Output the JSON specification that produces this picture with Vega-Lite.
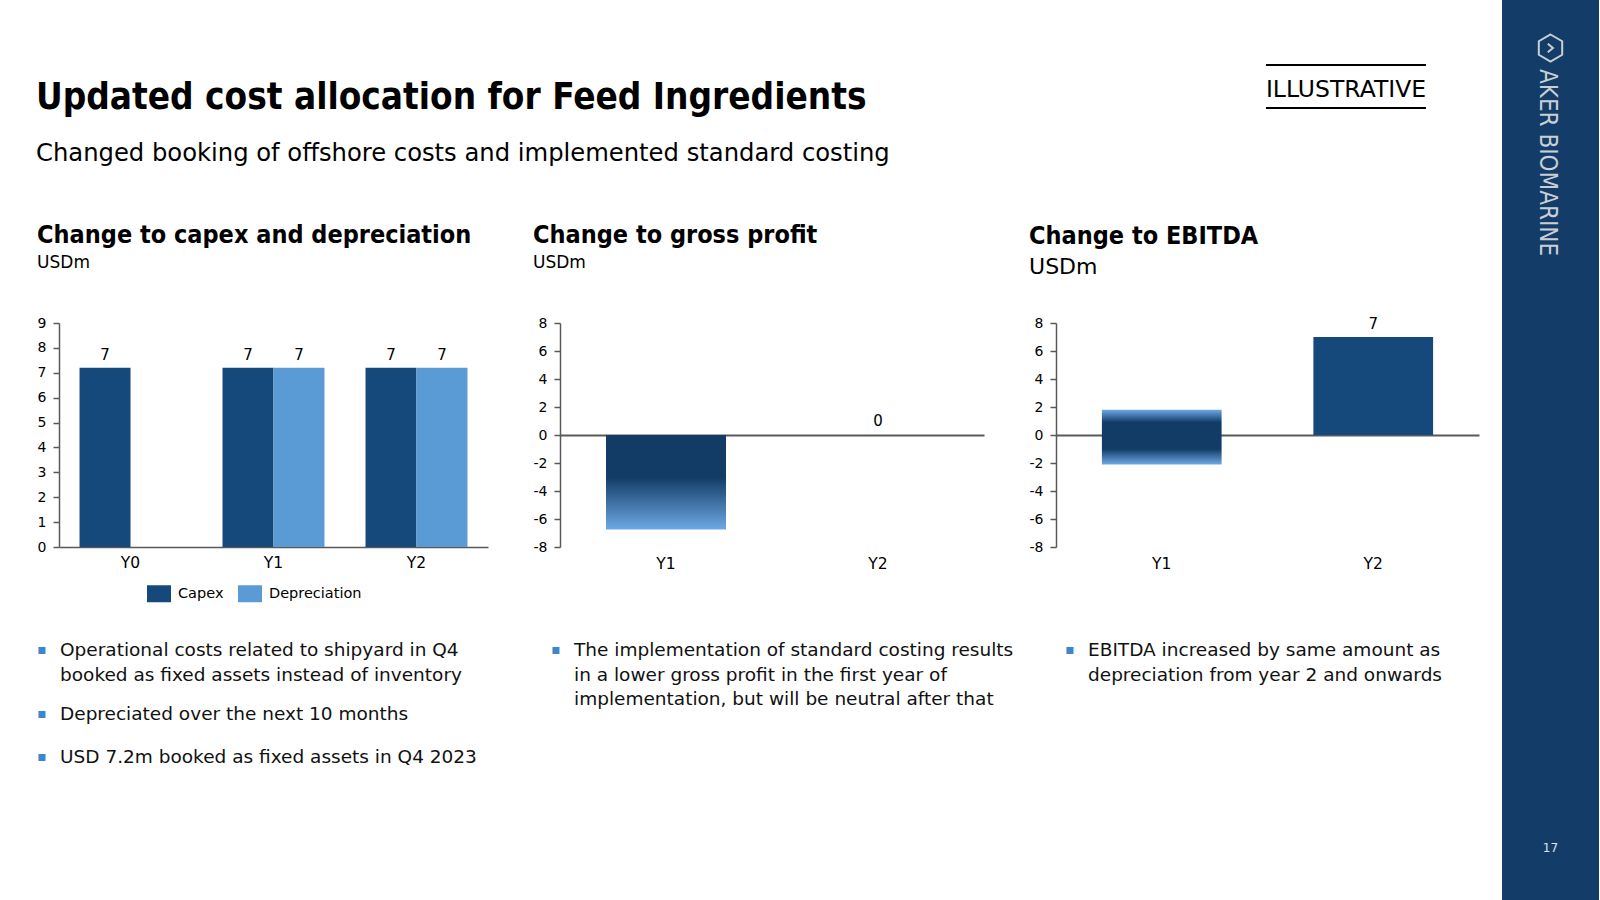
{
  "$schema": "https://vega.github.io/schema/vega-lite/v6.json",
  "background": "#ffffff",
  "padding": {"left": 36, "top": 0, "right": 0, "bottom": 0},
  "spacing": 23,
  "config": {
    "font": "DejaVu Sans",
    "view": {"stroke": null},
    "axis": {"domainColor": "#595959", "domainWidth": 1.5, "tickColor": "#595959", "tickWidth": 1.5, "labelColor": "#000000", "labelFont": "DejaVu Sans", "grid": false},
    "title": {"color": "#000000", "subtitleColor": "#000000", "anchor": "start", "font": "DejaVu Sans Condensed, DejaVu Sans", "fontWeight": "bold", "subtitleFont": "DejaVu Sans", "subtitleFontWeight": "normal"},
    "legend": {"labelFont": "DejaVu Sans", "labelColor": "#000000"}
  },
  "datasets": {
    "capex": [
      {"year": "Y0", "series": "Capex", "value": 7.2},
      {"year": "Y1", "series": "Capex", "value": 7.2},
      {"year": "Y1", "series": "Depreciation", "value": 7.2},
      {"year": "Y2", "series": "Capex", "value": 7.2},
      {"year": "Y2", "series": "Depreciation", "value": 7.2}
    ],
    "gross": [
      {"year": "Y1", "value": -6.75},
      {"year": "Y2", "value": 0}
    ],
    "ebitda": [
      {"year": "Y1", "low": -2.1, "high": 1.8},
      {"year": "Y2", "low": 0, "high": 7.0}
    ],
    "bullets": [
      {"chart": "capex", "line": 0, "text": "Operational costs related to shipyard in Q4\nbooked as fixed assets instead of inventory"},
      {"chart": "capex", "line": 3, "text": "Depreciated over the next 10 months"},
      {"chart": "capex", "line": 5, "text": "USD 7.2m booked as fixed assets in Q4 2023"},
      {"chart": "gross", "line": 0, "text": "The implementation of standard costing results\nin a lower gross profit in the first year of\nimplementation, but will be neutral after that"},
      {"chart": "ebitda", "line": 0, "text": "EBITDA increased by same amount as\ndepreciation from year 2 and onwards"}
    ]
  },
  "hconcat": [
    {
      "spacing": 57,
      "vconcat": [
        {
          "spacing": 0,
          "hconcat": [
            {
              "spacing": 0,
              "vconcat": [
                {"width": 1205, "height": 80, "data": {"values": []}, "mark": "point"},
                {
                  "width": 1205, "height": 1, "data": {"values": []}, "mark": "point",
                  "title": {"text": "Updated cost allocation for Feed Ingredients", "subtitle": "Changed booking of offshore costs and implemented standard costing", "fontSize": 36.6, "subtitleFontSize": 24.25, "subtitlePadding": 25, "offset": -17, "frame": "group", "dx": -23}
                }
              ]
            },
            {
              "spacing": 0,
              "vconcat": [
                {"width": 160, "height": 64, "data": {"values": []}, "mark": "point"},
                {
                  "width": 160, "height": 43,
                  "view": {"stroke": "#000000", "strokeWidth": 2, "strokeDash": [160, 43]},
                  "data": {"values": [{"label": "ILLUSTRATIVE"}]},
                  "mark": {"type": "text", "fontSize": 23.5, "color": "#000000", "baseline": "middle", "dy": 3},
                  "encoding": {"text": {"field": "label"}}
                }
              ]
            }
          ]
        },
        {
          "spacing": 45,
          "hconcat": [
            {
              "width": 429, "height": 224,
              "title": {"text": "Change to capex and depreciation", "subtitle": "USDm", "fontSize": 25, "subtitleFontSize": 17, "subtitlePadding": 7, "offset": 45},
              "data": {"name": "capex"},
              "encoding": {
                "x": {"field": "year", "type": "nominal", "scale": {"domain": ["Y0", "Y1", "Y2"], "paddingInner": 0.287, "paddingOuter": 0.1435}, "axis": {"title": null, "labelAngle": 0, "ticks": false, "labelFontSize": 15.5, "labelPadding": 8}},
                "xOffset": {"field": "series", "type": "nominal", "scale": {"domain": ["Capex", "Depreciation"]}},
                "y": {"field": "value", "type": "quantitative", "scale": {"domain": [0, 9]}, "axis": {"title": null, "values": [0, 1, 2, 3, 4, 5, 6, 7, 8, 9], "tickSize": 6, "labelPadding": 7, "labelFontSize": 14, "labelOverlap": false}}
              },
              "layer": [
                {
                  "mark": {"type": "bar"},
                  "encoding": {
                    "color": {"field": "series", "type": "nominal", "scale": {"domain": ["Capex", "Depreciation"], "range": ["#15487b", "#5b9bd5"]},
                      "legend": {"title": null, "orient": "none", "legendX": 88, "legendY": 581.5, "direction": "horizontal", "symbolType": "M-1,-0.708H1V0.708H-1Z", "symbolSize": 576, "symbolStrokeWidth": 0, "symbolOpacity": 1, "labelFontSize": 14.5, "labelOffset": 7, "columnPadding": 14}}
                  }
                },
                {
                  "mark": {"type": "text", "baseline": "bottom", "dy": -5, "fontSize": 15, "color": "#000000"},
                  "encoding": {"text": {"field": "value", "type": "quantitative", "format": ".0f"}}
                }
              ]
            },
            {
              "width": 424, "height": 224,
              "title": {"text": "Change to gross profit", "subtitle": "USDm", "fontSize": 25, "subtitleFontSize": 17, "subtitlePadding": 7, "offset": 45},
              "data": {"name": "gross"},
              "encoding": {
                "x": {"field": "year", "type": "nominal", "scale": {"domain": ["Y1", "Y2"], "paddingInner": 0.434, "paddingOuter": 0.217}, "axis": {"title": null, "labelAngle": 0, "ticks": false, "domain": false, "labelFontSize": 15.5, "labelPadding": 9}},
                "y": {"field": "value", "type": "quantitative", "scale": {"domain": [-8, 8]}, "axis": {"title": null, "values": [-8, -6, -4, -2, 0, 2, 4, 6, 8], "labelExpr": "replace(datum.label, '\u2212', '-')", "tickSize": 6, "labelPadding": 7, "labelFontSize": 14, "labelOverlap": false, "grid": true, "gridColor": {"condition": {"test": "datum.value === 0", "value": "#595959"}, "value": null}, "gridWidth": 2}}
              },
              "layer": [
                {
                  "mark": {"type": "bar", "color": {"gradient": "linear", "x1": 0, "y1": 0, "x2": 0, "y2": 1, "stops": [{"offset": 0, "color": "#123c66"}, {"offset": 0.45, "color": "#123c66"}, {"offset": 1, "color": "#6ea8e4"}]}}
                },
                {
                  "transform": [{"filter": "datum.year == 'Y2'"}],
                  "mark": {"type": "text", "baseline": "bottom", "dy": -6, "fontSize": 15, "color": "#000000"},
                  "encoding": {"text": {"field": "value", "type": "quantitative", "format": ".0f"}}
                }
              ]
            },
            {
              "width": 423, "height": 224,
              "title": {"text": "Change to EBITDA", "subtitle": "USDm", "fontSize": 25, "subtitleFontSize": 22, "subtitlePadding": 7.5, "offset": 38.5},
              "data": {"name": "ebitda"},
              "encoding": {
                "x": {"field": "year", "type": "nominal", "scale": {"domain": ["Y1", "Y2"], "paddingInner": 0.434, "paddingOuter": 0.217}, "axis": {"title": null, "labelAngle": 0, "ticks": false, "domain": false, "labelFontSize": 15.5, "labelPadding": 9}},
                "y": {"field": "high", "type": "quantitative", "scale": {"domain": [-8, 8]}, "axis": {"title": null, "values": [-8, -6, -4, -2, 0, 2, 4, 6, 8], "labelExpr": "replace(datum.label, '\u2212', '-')", "tickSize": 6, "labelPadding": 7, "labelFontSize": 14, "labelOverlap": false, "grid": true, "gridColor": {"condition": {"test": "datum.value === 0", "value": "#595959"}, "value": null}, "gridWidth": 2}}
              },
              "layer": [
                {
                  "transform": [{"filter": "datum.year == 'Y1'"}],
                  "mark": {"type": "bar", "color": {"gradient": "linear", "x1": 0, "y1": 0, "x2": 0, "y2": 1, "stops": [{"offset": 0, "color": "#6ea8e4"}, {"offset": 0.23, "color": "#123c66"}, {"offset": 0.72, "color": "#123c66"}, {"offset": 1, "color": "#6ea8e4"}]}},
                  "encoding": {"y2": {"field": "low"}}
                },
                {
                  "transform": [{"filter": "datum.year == 'Y2'"}],
                  "mark": {"type": "bar", "color": "#15487b"},
                  "encoding": {"y2": {"field": "low"}}
                },
                {
                  "transform": [{"filter": "datum.year == 'Y2'"}],
                  "mark": {"type": "text", "baseline": "bottom", "dy": -5, "fontSize": 15, "color": "#000000"},
                  "encoding": {"text": {"field": "high", "type": "quantitative", "format": ".0f"}}
                }
              ]
            }
          ]
        },
        {
          "width": 1028, "height": 107,
          "data": {"name": "bullets"},
          "encoding": {
            "x": {"field": "chart", "type": "nominal", "scale": {"type": "point", "domain": ["capex", "gross", "ebitda"], "padding": 0}, "axis": null},
            "y": {"field": "line", "type": "ordinal", "scale": {"type": "point", "domain": [0, 1, 2, 3, 4, 5], "padding": 0}, "axis": null}
          },
          "layer": [
            {"mark": {"type": "text", "text": "▪", "fontSize": 14, "baseline": "top", "align": "center", "dx": -17, "dy": 14, "color": "#3e86cc"}},
            {
              "mark": {"type": "text", "align": "left", "baseline": "top", "dx": 1, "dy": 12, "fontSize": 18.5, "lineHeight": 24.5, "lineBreak": "\n", "color": "#111111"},
              "encoding": {"text": {"field": "text"}}
            }
          ]
        }
      ]
    },
    {
      "spacing": 0,
      "bounds": "flush",
      "vconcat": [
        {
          "width": 97, "height": 96,
          "view": {"fill": "#133d68", "stroke": null},
          "data": {"values": [{"brand": "Aker BioMarine"}]},
          "mark": {"type": "point", "shape": "M0,-1L0.866,-0.5L0.866,0.5L0,1L-0.866,0.5L-0.866,-0.5ZM-0.2,-0.32L0.18,0L-0.2,0.32", "size": 729, "filled": false, "color": "#c9ced6", "strokeWidth": 2, "opacity": 1}
        },
        {
          "width": 97, "height": 700,
          "view": {"fill": "#133d68", "stroke": null},
          "title": {"text": "AKER BIOMARINE", "orient": "right", "anchor": "start", "font": "Liberation Sans Narrow, DejaVu Sans Condensed, DejaVu Sans", "fontSize": 24, "fontWeight": "normal", "color": "#c9ced6", "offset": -64, "dx": -27},
          "data": {"values": []},
          "mark": "point"
        },
        {
          "width": 97, "height": 104,
          "view": {"fill": "#133d68", "stroke": null},
          "data": {"values": [{"page": "17"}]},
          "mark": {"type": "text", "fontSize": 12, "color": "#dfe3ea"},
          "encoding": {"text": {"field": "page"}}
        }
      ]
    }
  ]
}
